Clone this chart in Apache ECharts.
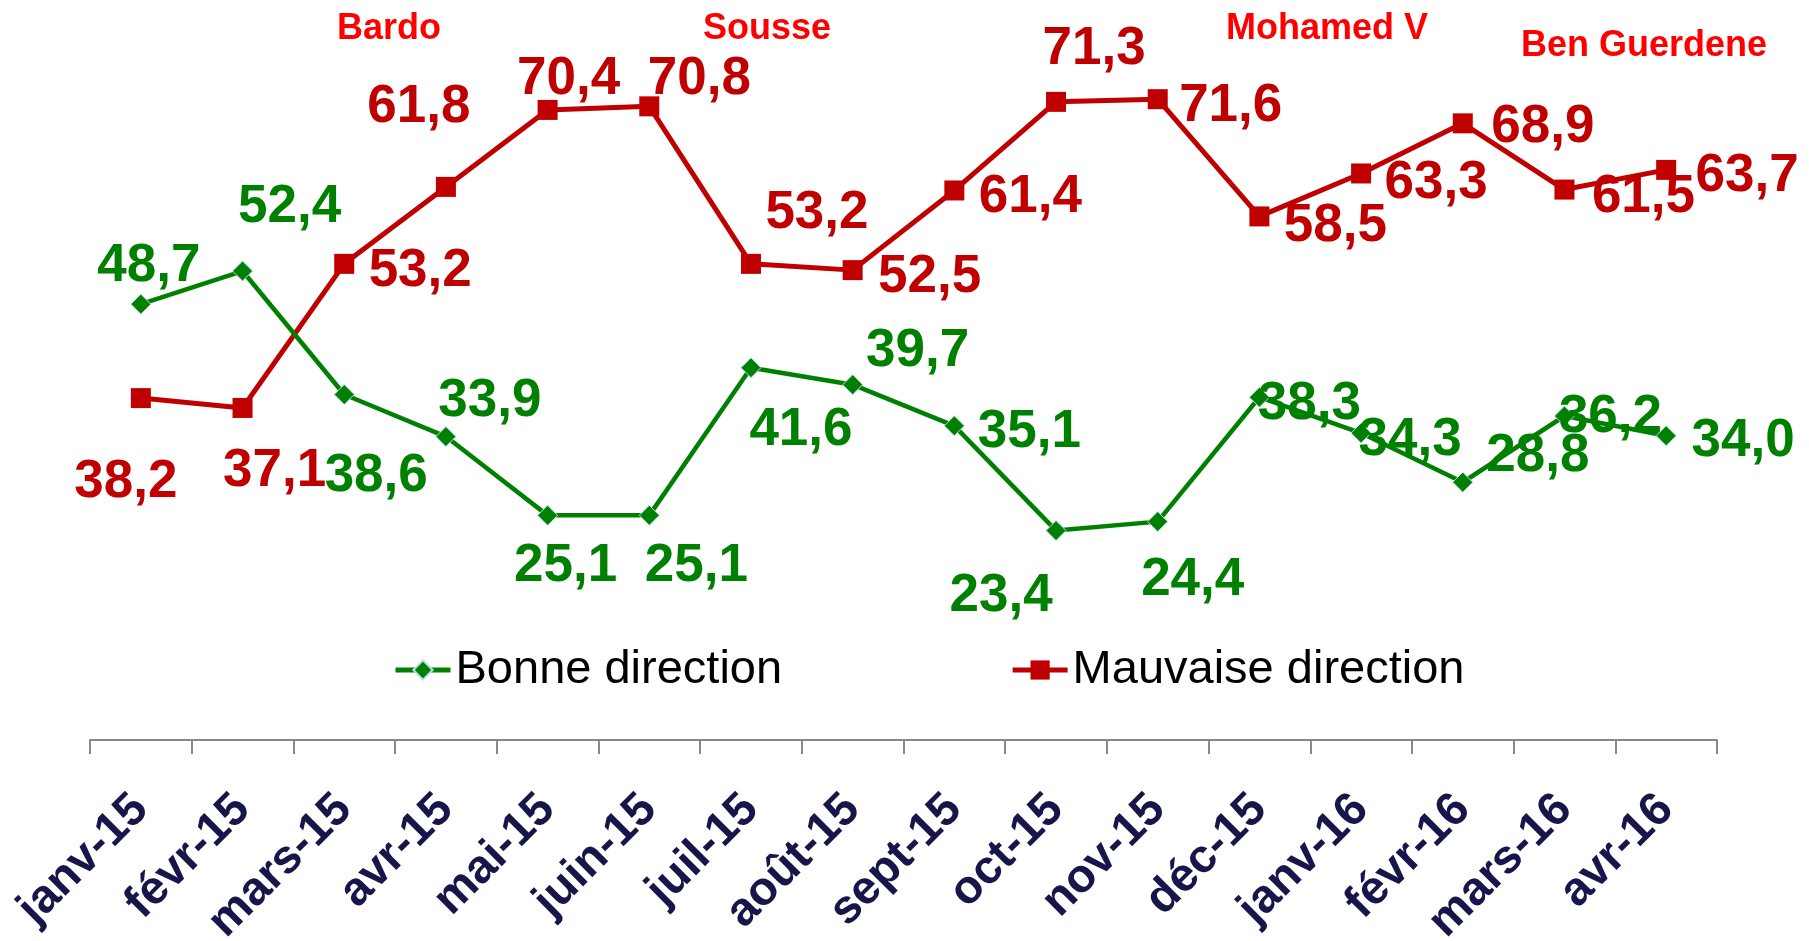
<!DOCTYPE html>
<html>
<head>
<meta charset="utf-8">
<script src="https://cdn.jsdelivr.net/npm/echarts@6/dist/echarts.min.js"></script>
<style>
  html, body { margin: 0; padding: 0; background: #fff; }
  #chart { width: 1809px; height: 941px; }
</style>
</head>
<body>
<div id="chart"></div>
<script>
// donnees
const months = ['janv-15', 'févr-15', 'mars-15', 'avr-15', 'mai-15', 'juin-15', 'juil-15', 'août-15',
  'sept-15', 'oct-15', 'nov-15', 'déc-15', 'janv-16', 'févr-16', 'mars-16', 'avr-16']
const bonne = [48.7, 52.4, 38.6, 33.9, 25.1, 25.1, 41.6, 39.7, 35.1, 23.4, 24.4, 38.3, 34.3, 28.8, 36.2, 34.0]
const mauvaise = [38.2, 37.1, 53.2, 61.8, 70.4, 70.8, 53.2, 52.5, 61.4, 71.3, 71.6, 58.5, 63.3, 68.9, 61.5, 63.7]
const events = ['Bardo', 'Sousse', 'Mohamed V', 'Ben Guerdene']

const FONT = '"Liberation Sans", Arial, sans-serif'

// position des etiquettes (decalage depuis le point, comme dans le fichier excel)
const greenOffsets = [[8, -42], [47, -68], [32, 78], [44, -39], [18, 47], [47, 47], [50, 59], [65, -37],
  [75, 3], [-55, 62], [35, 55], [50, 3], [49, 3], [75, -30], [46, -3], [77, 2]]
const redOffsets = [[-15, 80], [32, 59], [76, 4], [-27, -83], [21, -35], [50, -31], [66, -54], [77, 3],
  [76, 3], [38, -56], [73, 3], [76, 6], [75, 6], [80, 0], [79, 4], [81, 3]]
const eventPos = [[389, 29], [767, 29], [1327, 29], [1644, 46]]

const fmt = v => v.toFixed(1).replace('.', ',')

const withLabels = (values, offsets) =>
  values.map((v, i) => ({ value: v, label: { offset: [offsets[i][0], offsets[i][1] + 4] } }))

const chart = echarts.init(document.getElementById('chart'))

const option = {
  animation: false,
  backgroundColor: '#fff',
  grid: { left: 90, right: 92, top: 24, bottom: 201, outerBoundsMode: 'none' },
  legend: {
    left: 388,
    top: 637,
    itemWidth: 55,
    itemHeight: 24,
    itemGap: 228,
    textStyle: { fontSize: 47, color: '#000', fontFamily: FONT, lineHeight: 56 },
    data: [
      { name: 'Bonne direction', lineStyle: { width: 5 } },
      { name: 'Mauvaise direction', lineStyle: { width: 5 } }
    ]
  },
  xAxis: {
    type: 'category',
    data: months,
    axisLine: { lineStyle: { color: '#888', width: 2 } },
    axisTick: { show: true, length: 14, lineStyle: { color: '#888', width: 2 } },
    axisLabel: {
      interval: 0,
      rotate: 45,
      margin: 62,
      fontSize: 47,
      fontWeight: 'bold',
      fontFamily: FONT,
      color: '#16164a'
    }
  },
  yAxis: { type: 'value', min: 0, max: 80, show: false },
  graphic: events.map((t, i) => ({
    type: 'text',
    x: eventPos[i][0],
    y: eventPos[i][1],
    style: {
      text: t,
      fill: '#ff0000',
      font: 'bold 36px ' + FONT,
      textAlign: 'center',
      textVerticalAlign: 'middle'
    }
  })),
  series: [
    {
      name: 'Bonne direction',
      type: 'line',
      data: withLabels(bonne, greenOffsets),
      symbol: 'diamond',
      symbolSize: 20,
      lineStyle: { color: '#008000', width: 4.5 },
      itemStyle: { color: '#008000', borderColor: '#b7dde8', borderWidth: 1 },
      label: {
        show: true,
        position: 'inside',
        formatter: p => fmt(p.value),
        fontSize: 53,
        fontWeight: 'bold',
        fontFamily: FONT,
        color: '#008000'
      },
      z: 3
    },
    {
      name: 'Mauvaise direction',
      type: 'line',
      data: withLabels(mauvaise, redOffsets),
      symbol: 'rect',
      symbolSize: 20,
      lineStyle: { color: '#c00000', width: 5 },
      itemStyle: { color: '#c00000' },
      label: {
        show: true,
        position: 'inside',
        formatter: p => fmt(p.value),
        fontSize: 53,
        fontWeight: 'bold',
        fontFamily: FONT,
        color: '#c00000'
      },
      z: 2
    }
  ]
}

chart.setOption(option)
</script>
</body>
</html>
